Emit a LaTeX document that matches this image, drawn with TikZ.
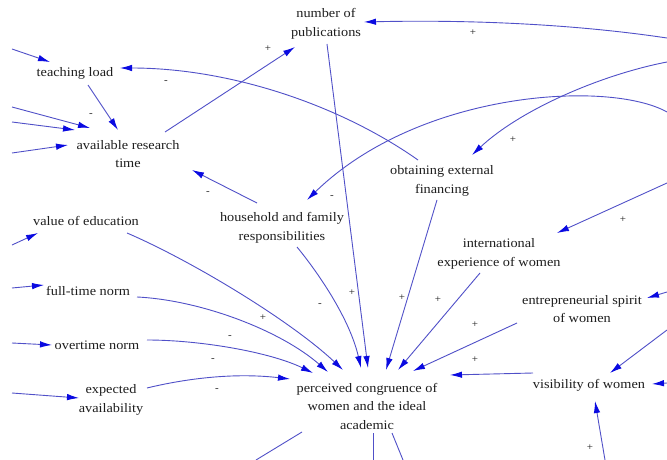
\documentclass[tikz,border=0pt]{standalone}
\usepackage{fontspec}
\setmainfont{Liberation Serif}[FakeStretch=1.1]
\usetikzlibrary{arrows.meta,calc}
\definecolor{edgeblue}{RGB}{80,80,200}
\definecolor{tipblue}{RGB}{10,10,225}
\definecolor{txt}{RGB}{30,30,30}
\begin{document}
\begin{tikzpicture}[x=1pt,y=-1pt,
 lab/.style={align=center,text=txt,font=\fontsize{13}{18.5}\selectfont,inner sep=0pt},
 edge/.style={draw=edgeblue,line width=0.9pt,-{Latex[length=12pt,width=6.5pt,color=tipblue]}},
 plain/.style={draw=edgeblue,line width=0.9pt},
 sign/.style={text=txt,font=\fontsize{10}{10}\selectfont,inner sep=0pt}]
\useasboundingbox (0,0) rectangle (667,460);
\fill[white] (0,0) rectangle (667,460);
% nodes
\node[lab] (num) at (326,24) {number of\\publications};
\node[lab] (teach) at (75,73) {teaching load};
\node[lab] (art) at (128,154) {available research\\time};
\node[lab] (fin) at (442,181) {obtaining external\\financing};
\node[lab] (hh) at (282,228) {household and family\\responsibilities};
\node[lab] (val) at (86,221) {value of education};
\node[lab] (ie) at (499,254) {international\\experience of women};
\node[lab] (ft) at (88,291) {full-time norm};
\node[lab] (es) at (582,309) {entrepreneurial spirit\\of women};
\node[lab] (ot) at (97,345) {overtime norm};
\node[lab] (vis) at (589,385) {visibility of women};
\node[lab] (ea) at (111,400) {expected\\availability};
\node[lab] (pc) at (367,406) {perceived congruence of\\women and the ideal\\academic};
% free ends
\coordinate (r1) at (667,38);
\coordinate (r2) at (667,62);
\coordinate (r3) at (667,112);
\coordinate (r4) at (667,183);
\coordinate (r5) at (667,292);
\coordinate (r6) at (667,330);
\coordinate (r7) at (667,383);
\coordinate (l1) at (12,49);
\coordinate (l2) at (12,107);
\coordinate (l3) at (12,122);
\coordinate (l4) at (12,153);
\coordinate (l5) at (12,245);
\coordinate (l6) at (12,288);
\coordinate (l7) at (12,343);
\coordinate (l8) at (12,393);
\coordinate (b1) at (605,460);
\coordinate (b2) at (256,460);
\coordinate (b3) at (373,460);
\coordinate (b4) at (403,460);
% connectors
\draw[edge] (r1) .. controls (560,22) and (450,20) .. ($(num)+(38,-2)$);
\draw[edge] (l1) -- ($(teach)+(-25,-11)$);
\draw[edge] ($(teach)+(13,12)$) -- ($(art)+(-10,-24)$);
\draw[edge] (l2) -- ($(art)+(-38,-26)$);
\draw[edge] (l3) -- ($(art)+(-53,-24)$);
\draw[edge] (l4) -- ($(art)+(-60,-9)$);
\draw[edge] ($(art)+(37,-22)$) -- ($(num)+(-31,23)$);
\draw[edge] ($(fin)+(-24,-21)$) .. controls (340,105) and (230,68) .. ($(teach)+(45,-5)$);
\draw[edge] (r2) .. controls (600,75) and (520,110) .. ($(fin)+(30,-26)$);
\draw[edge] (r3) .. controls (610,80) and (420,90) .. ($(hh)+(25,-28)$);
\draw[edge] ($(hh)+(-25,-25)$) -- ($(art)+(64,16)$);
\draw[edge] (l5) -- ($(val)+(-48,12)$);
\draw[edge] (l6) -- ($(ft)+(-44,-6)$);
\draw[edge] (l7) -- ($(ot)+(-45,0)$);
\draw[edge] (l8) -- ($(ea)+(-32,-2)$);
\draw[edge] ($(val)+(41,12)$) .. controls (190,260) and (290,320) .. ($(pc)+(-24,-36)$);
\draw[edge] ($(ft)+(49,6)$) .. controls (200,300) and (280,330) .. ($(pc)+(-39,-34)$);
\draw[edge] ($(ot)+(50,-5)$) .. controls (200,340) and (270,352) .. ($(pc)+(-54,-33)$);
\draw[edge] ($(ea)+(36,-12)$) .. controls (180,380) and (230,372) .. ($(pc)+(-77,-27)$);
\draw[edge] ($(hh)+(15,19)$) .. controls (320,275) and (350,320) .. ($(pc)+(-6,-38)$);
\draw[edge] ($(num)+(1,20)$) -- ($(pc)+(1,-38)$);
\draw[edge] ($(fin)+(-5,19)$) -- ($(pc)+(19,-36)$);
\draw[edge] ($(ie)+(-19,19)$) -- ($(pc)+(31,-36)$);
\draw[edge] ($(es)+(-65,14)$) -- ($(pc)+(46,-35)$);
\draw[edge] ($(vis)+(-56,-12)$) -- ($(pc)+(83,-31)$);
\draw[edge] (r4) -- ($(ie)+(58,-21)$);
\draw[edge] (r5) -- ($(es)+(65,-11)$);
\draw[edge] (r6) -- ($(vis)+(21,-12)$);
\draw[edge] (r7) -- ($(vis)+(63,-1)$);
\draw[edge] (b1) -- ($(vis)+(6,16)$);
\draw[plain] ($(pc)+(-65,26)$) -- (b2);
\draw[plain] ($(pc)+(6,27)$) -- (b3);
\draw[plain] ($(pc)+(25,27)$) -- (b4);
% polarity signs
\node[sign] (s1) at (473,33) {+};
\node[sign] (s2) at (268,49) {+};
\node[sign] (s3) at (166,82) {-};
\node[sign] (s4) at (91,115) {-};
\node[sign] (s5) at (513,140) {+};
\node[sign] (s6) at (208,193) {-};
\node[sign] (s7) at (332,197) {-};
\node[sign] (s8) at (623,220) {+};
\node[sign] (s9) at (352,293) {+};
\node[sign] (s10) at (402,298) {+};
\node[sign] (s11) at (438,300) {+};
\node[sign] (s12) at (320,305) {-};
\node[sign] (s13) at (263,318) {+};
\node[sign] (s14) at (475,325) {+};
\node[sign] (s15) at (230,337) {-};
\node[sign] (s16) at (213,360) {-};
\node[sign] (s17) at (475,360) {+};
\node[sign] (s18) at (217,390) {-};
\node[sign] (s19) at (590,448) {+};
\end{tikzpicture}
\end{document}
